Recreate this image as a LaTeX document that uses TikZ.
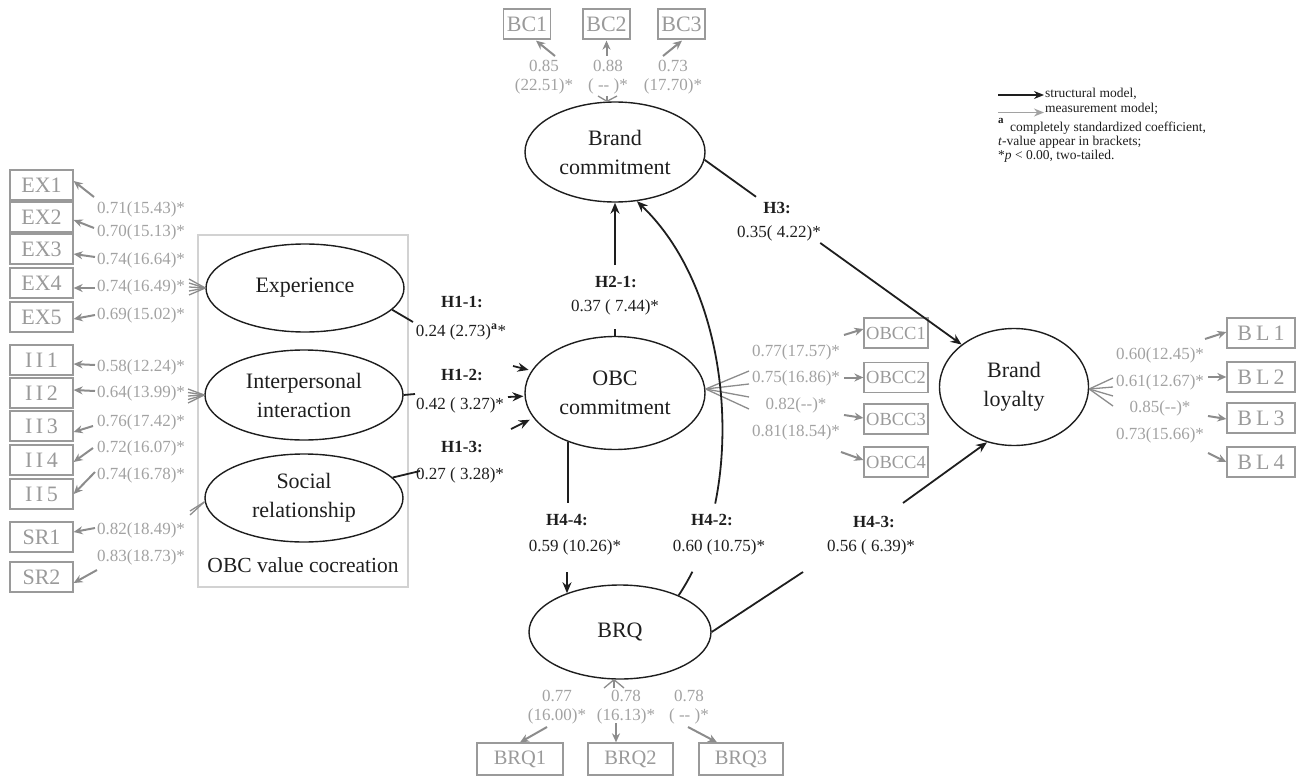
\documentclass[tikz,border=0pt]{standalone}
\usepackage{fontspec}
\setmainfont{Liberation Serif}
\usetikzlibrary{shapes.geometric,arrows.meta,calc}
\definecolor{boxgray}{HTML}{9A9A9A}
\definecolor{labgray}{HTML}{A2A2A2}
\definecolor{arrgray}{HTML}{8C8C8C}
\definecolor{framegray}{HTML}{D2D2D2}
\definecolor{ink}{HTML}{1E1E1E}
\begin{document}
\begin{tikzpicture}[x=1pt,y=-1pt,
 lat/.style={ellipse,draw=ink,line width=1.4pt,inner sep=0pt,align=center,text=ink,font=\fontsize{22}{29}\selectfont},
 ind/.style={rectangle,draw=boxgray,line width=1.3pt,inner sep=0pt,text=boxgray,font=\fontsize{22}{26}\selectfont,minimum height=30pt},
 lab/.style={text=labgray,inner sep=0pt,align=center,font=\fontsize{17}{19}\selectfont},
 hyt/.style={text=ink,inner sep=0pt,font=\fontsize{17}{19}\selectfont\bfseries},
 hyv/.style={text=ink,inner sep=0pt,font=\fontsize{17}{19}\selectfont},
 leg/.style={text=ink,inner sep=0pt,anchor=base west,font=\fontsize{13.5}{15}\selectfont},
 meas/.style={draw=arrgray,line width=2pt,-{Stealth[length=9pt,width=8pt]}},
 fan/.style={draw=arrgray,line width=1.3pt},
 struct/.style={draw=ink,line width=1.8pt},
 sarr/.style={struct,-{Stealth[length=11pt,width=9pt]}},
]
\path[use as bounding box] (0,0) rectangle (1298,778);

% frame
\draw[framegray,line width=1.2pt] (198,235) rectangle (408,587);
\node[text=ink,inner sep=0pt,font=\fontsize{21.5}{24}\selectfont] (obcv) at (303,565) {OBC value cocreation};

% latent variables
\node[lat,minimum width=198pt,minimum height=88pt] (ex) at (305,288) {Experience};
\node[lat,minimum width=198pt,minimum height=90pt] (ii) at (304,395) {Interpersonal\\interaction};
\node[lat,minimum width=198pt,minimum height=88pt] (sr) at (304,498) {Social\\relationship};
\node[lat,minimum width=180pt,minimum height=113pt] (obc) at (615,393) {OBC\\commitment};
\node[lat,minimum width=180pt,minimum height=100pt] (bc) at (615,152) {Brand\\commitment};
\node[lat,minimum width=149pt,minimum height=117pt] (bl) at (1014,387) {Brand\\loyalty};
\node[lat,minimum width=182pt,minimum height=94pt] (brq) at (620,632) {BRQ};

% left indicators
\node[ind,minimum width=63pt] (ex1) at (41.5,185) {EX1};
\node[ind,minimum width=63pt] (ex2) at (41.5,217) {EX2};
\node[ind,minimum width=63pt] (ex3) at (41.5,249) {EX3};
\node[ind,minimum width=63pt] (ex4) at (41.5,283) {EX4};
\node[ind,minimum width=63pt] (ex5) at (41.5,317) {EX5};
\node[ind,minimum width=63pt] (ii1) at (41.5,360) {I\hspace{3.5pt}I\hspace{3.5pt}1};
\node[ind,minimum width=63pt] (ii2) at (41.5,393) {I\hspace{3.5pt}I\hspace{3.5pt}2};
\node[ind,minimum width=63pt] (ii3) at (41.5,426) {I\hspace{3.5pt}I\hspace{3.5pt}3};
\node[ind,minimum width=63pt] (ii4) at (41.5,460) {I\hspace{3.5pt}I\hspace{3.5pt}4};
\node[ind,minimum width=63pt] (ii5) at (41.5,494) {I\hspace{3.5pt}I\hspace{3.5pt}5};
\node[ind,minimum width=63pt] (sr1) at (41.5,537) {SR1};
\node[ind,minimum width=63pt] (sr2) at (41.5,577) {SR2};

\node[lab] (lex1) at (141,209) {0.71(15.43)*};
\node[lab] (lex2) at (141,232) {0.70(15.13)*};
\node[lab] (lex3) at (141,260) {0.74(16.64)*};
\node[lab] (lex4) at (141,287) {0.74(16.49)*};
\node[lab] (lex5) at (141,315) {0.69(15.02)*};
\node[lab] (lii1) at (141,367) {0.58(12.24)*};
\node[lab] (lii2) at (141,393) {0.64(13.99)*};
\node[lab] (lii3) at (141,422) {0.76(17.42)*};
\node[lab] (lii4) at (141,448) {0.72(16.07)*};
\node[lab] (lii5) at (141,475) {0.74(16.78)*};
\node[lab] (lsr1) at (141,530) {0.82(18.49)*};
\node[lab] (lsr2) at (141,557) {0.83(18.73)*};

\coordinate (aex1) at (94,197);
\coordinate (aex2) at (94,228);
\coordinate (aex3) at (95,257);
\coordinate (aex4) at (95,288);
\coordinate (aex5) at (95,315);
\coordinate (aii1) at (95,365);
\coordinate (aii2) at (95,391);
\coordinate (aii3) at (93,426);
\coordinate (aii4) at (93,448);
\coordinate (aii5) at (95,472);
\coordinate (asr1) at (95,528);
\coordinate (asr2) at (97,570);
\draw[meas] (aex1) -- ([yshift=4pt]ex1.east);
\draw[meas] (aex2) -- ([yshift=-3pt]ex2.east);
\draw[meas] (aex3) -- ([yshift=-5pt]ex3.east);
\draw[meas] (aex4) -- ([yshift=-5pt]ex4.east);
\draw[meas] (aex5) -- ([yshift=-2pt]ex5.east);
\draw[meas] (aii1) -- ([yshift=-4pt]ii1.east);
\draw[meas] (aii2) -- ([yshift=3pt]ii2.east);
\draw[meas] (aii3) -- ([yshift=-6pt]ii3.east);
\draw[meas] (aii4) -- ([yshift=-2pt]ii4.east);
\draw[meas] (aii5) -- (ii5.east);
\draw[meas] (asr1) -- ([yshift=5pt]sr1.east);
\draw[meas] (asr2) -- ([yshift=-6pt]sr2.east);

\foreach \yy in {279,283,287,291,295} \draw[fan] (ex.west) -- (189,\yy);
\foreach \yy in {389,392.5,396,399.5,403} \draw[fan] (ii.west) -- (188,\yy);
\foreach \yy in {511,515} \draw[fan] ([yshift=-4pt]sr.west) -- (190,\yy);

% Brand commitment indicators
\node[ind,minimum width=47pt] (bc1) at (527,24) {BC1};
\node[ind,minimum width=47pt] (bc2) at (606.5,24) {BC2};
\node[ind,minimum width=47pt] (bc3) at (681.5,24) {BC3};
\node[lab] (lbc1) at (544,77.5) {0.85\\(22.51)*};
\node[lab] (lbc2) at (608,77.5) {0.88\\( -{}- )*};
\node[lab] (lbc3) at (673,77.5) {0.73\\(17.70)*};
\coordinate (abc1) at (555,56);
\coordinate (abc2) at (606.5,56);
\coordinate (abc3) at (663,56);
\draw[meas] (abc1) -- ([xshift=9pt,yshift=-1pt]bc1.south);
\draw[meas] (abc2) -- ([yshift=-1pt]bc2.south);
\draw[meas] (abc3) -- ([xshift=0.5pt,yshift=-1pt]bc3.south);
\foreach \xx in {598,607,617} \draw[fan] ([xshift=-8pt]bc.north) -- (\xx,96);

% OBC commitment indicators
\node[ind,minimum width=64pt,font=\fontsize{18.5}{22}\selectfont] (ob1) at (896,333) {OBCC1};
\node[ind,minimum width=64pt,font=\fontsize{18.5}{22}\selectfont] (ob2) at (896,377.5) {OBCC2};
\node[ind,minimum width=64pt,font=\fontsize{18.5}{22}\selectfont] (ob3) at (896,419) {OBCC3};
\node[ind,minimum width=64pt,font=\fontsize{18.5}{22}\selectfont] (ob4) at (896,462) {OBCC4};
\node[lab] (lob1) at (796,352) {0.77(17.57)*};
\node[lab] (lob2) at (796,378) {0.75(16.86)*};
\node[lab] (lob3) at (796,405) {0.82(-{}-)*};
\node[lab] (lob4) at (796,432) {0.81(18.54)*};
\coordinate (aob1) at (844,335);
\coordinate (aob2) at (844,377.5);
\coordinate (aob3) at (844,415);
\coordinate (aob4) at (841,452);
\draw[meas] (aob1) -- ([yshift=4pt]ob1.west);
\draw[meas] (aob2) -- (ob2.west);
\draw[meas] (aob3) -- ([yshift=1pt]ob3.west);
\draw[meas] (aob4) -- ([yshift=2pt]ob4.west);
\foreach \yy in {371,384,397,409} \draw[fan] ([yshift=4pt]obc.east) -- (749,\yy);

% Brand loyalty indicators
\node[ind,minimum width=68pt] (bl1) at (1261,333) {B\hspace{4pt}L\hspace{4pt}1};
\node[ind,minimum width=68pt] (bl2) at (1261,377) {B\hspace{4pt}L\hspace{4pt}2};
\node[ind,minimum width=68pt] (bl3) at (1261,418) {B\hspace{4pt}L\hspace{4pt}3};
\node[ind,minimum width=68pt] (bl4) at (1261,462) {B\hspace{4pt}L\hspace{4pt}4};
\node[lab] (lbl1) at (1160,355) {0.60(12.45)*};
\node[lab] (lbl2) at (1160,382) {0.61(12.67)*};
\node[lab] (lbl3) at (1160,408) {0.85(-{}-)*};
\node[lab] (lbl4) at (1160,435) {0.73(15.66)*};
\coordinate (abl1) at (1205,339);
\coordinate (abl2) at (1208,377);
\coordinate (abl3) at (1208,416);
\coordinate (abl4) at (1208,453);
\draw[meas] (abl1) -- ([yshift=1pt]bl1.west);
\draw[meas] (abl2) -- (bl2.west);
\draw[meas] (abl3) -- ([yshift=-1pt]bl3.west);
\draw[meas] (abl4) -- (bl4.west);
\foreach \yy in {378,387,396,406} \draw[fan] ([yshift=-2pt]bl.east) -- (1113,\yy);

% BRQ indicators
\node[ind,minimum width=86pt,minimum height=32pt,font=\fontsize{20.5}{24}\selectfont] (brq1) at (520,759) {BRQ1};
\node[ind,minimum width=85pt,minimum height=32pt,font=\fontsize{20.5}{24}\selectfont] (brq2) at (630.5,759) {BRQ2};
\node[ind,minimum width=84pt,minimum height=32pt,font=\fontsize{20.5}{24}\selectfont] (brq3) at (741,759) {BRQ3};
\node[lab] (lbrq1) at (557,707.5) {0.77\\(16.00)*};
\node[lab] (lbrq2) at (626,707.5) {0.78\\(16.13)*};
\node[lab] (lbrq3) at (689,707.5) {0.78\\( -{}- )*};
\coordinate (abrq1) at (547,727);
\coordinate (abrq2) at (616,723);
\coordinate (abrq3) at (688,727);
\draw[meas] (abrq1) -- (brq1.north);
\draw[meas] (abrq2) -- ([xshift=-14.5pt]brq2.north);
\draw[meas] (abrq3) -- ([xshift=-24pt]brq3.north);
\foreach \xx in {604,614,624} \draw[fan] ([xshift=-6pt]brq.south) -- (\xx,688);

% hypothesis labels
\node[hyt] (h11t) at (462,302) {H1-1:};
\node[hyv] (h11v) at (461,332) {0.24 (2.73)\textsuperscript{\textbf{a}}*};
\node[hyt] (h12t) at (462,375) {H1-2:};
\node[hyv] (h12v) at (460,405) {0.42 ( 3.27)*};
\node[hyt] (h13t) at (462,447) {H1-3:};
\node[hyv] (h13v) at (460,475) {0.27 ( 3.28)*};
\node[hyt] (h21t) at (616,282) {H2-1:};
\node[hyv] (h21v) at (615,307) {0.37 ( 7.44)*};
\node[hyt] (h3t) at (777,208) {H3:};
\node[hyv] (h3v) at (779,233) {0.35( 4.22)*};
\node[hyt] (h44t) at (567,520) {H4-4:};
\node[hyv] (h44v) at (575,547) {0.59 (10.26)*};
\node[hyt] (h42t) at (712,520) {H4-2:};
\node[hyv] (h42v) at (719,547) {0.60 (10.75)*};
\node[hyt] (h43t) at (874,522) {H4-3:};
\node[hyv] (h43v) at (871,547) {0.56 ( 6.39)*};

% structural paths
\coordinate (h11e) at (413,322);
\coordinate (h12e) at (415,394);
\coordinate (h13e) at (420,471);
\draw[struct] (ex.-14.5) -- (h11e);
\draw[struct] (ii.east) -- (h12e);
\draw[struct] (sr.13) -- (h13e);
\coordinate (h1a1) at (513,366);
\coordinate (h1a2) at (508,397);
\coordinate (h1a3) at (511,429);
\draw[sarr,shorten >=3pt] (h1a1) -- (obc.165);
\draw[sarr,shorten >=1pt] (h1a2) -- (obc.182);
\draw[sarr,shorten >=4pt] (h1a3) -- (obc.197);

\coordinate (h21a) at (615,329);
\coordinate (h21b) at (615,265);
\draw[struct] (obc.north) -- (h21a);
\draw[sarr] (h21b) -- (bc.south);

\coordinate (h3a) at ($(bc.-5)!0.2!(bl.141)$);
\coordinate (h3b) at ($(bc.-5)!0.45!(bl.141)$);
\draw[struct] (bc.-5) -- (h3a);
\draw[sarr] (h3b) -- (bl.141);

\coordinate (h44a) at (567,503);
\coordinate (h44b) at (567,572);
\draw[struct] (obc.226) -- (obc.226 |- h44a);
\draw[sarr] (h44b) -- (h44b |- brq.144.4);

\coordinate (h43a) at (803,572);
\coordinate (h43b) at (903,503);
\draw[struct] (brq.east) -- (h43a);
\draw[sarr] (h43b) -- (bl.244);

\coordinate (h42a) at (692.4,571.7);
\coordinate (h42b) at (715.2,503.6);
\draw[struct] (brq.32) .. controls (683.2,588.5) and (688.0,580.4) .. (h42a);
\draw[sarr] (h42b) .. controls (735.75,402.8) and (713.1,274.1) .. (bc.-66);

% legend
\coordinate (lga) at (998,95);
\coordinate (lgb) at (1044,95);
\coordinate (lgc) at (998,112.5);
\coordinate (lgd) at (1044,112.5);
\draw[draw=ink,line width=1.6pt,-{Stealth[length=10pt,width=8pt]}] (lga) -- (lgb);
\draw[draw=labgray,line width=1.6pt,-{Stealth[length=10pt,width=8pt]}] (lgc) -- (lgd);
\node[leg] (lt1) at (1045,98) {structural model,};
\node[leg] (lt2) at (1045,113) {measurement model;};
\node[leg,font=\fontsize{11}{13}\selectfont\bfseries] (lt3) at (998,124) {a};
\node[leg] (lt4) at (1010,132) {completely standardized coefficient,};
\node[leg] (lt5) at (998,146) {\textit{t}-value appear in brackets;};
\node[leg] (lt6) at (998,159.5) {*\textit{p} < 0.00, two-tailed.};
\end{tikzpicture}
\end{document}
